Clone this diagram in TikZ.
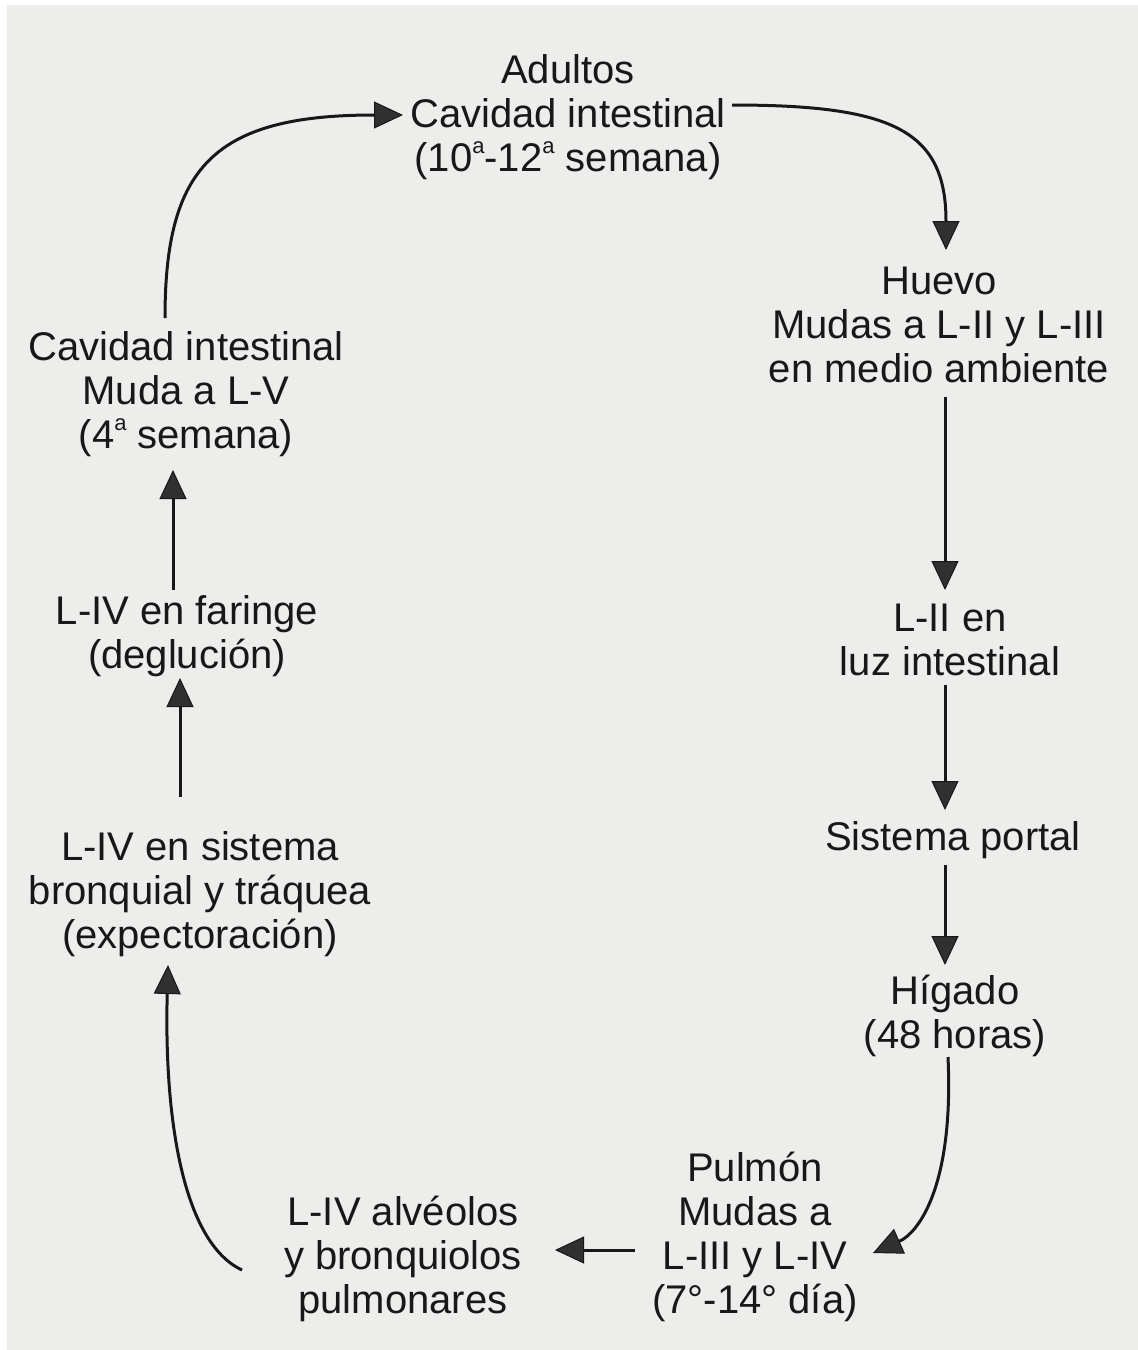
\documentclass[tikz,border=0pt]{standalone}
\usepackage{fontspec}
\setmainfont{Liberation Sans}
\usetikzlibrary{arrows.meta}
\definecolor{paper}{RGB}{237,237,235}
\definecolor{ink}{RGB}{24,24,24}
\definecolor{headc}{RGB}{48,48,48}
\newcommand\ordsupa{\raisebox{0.45em}{\fontsize{22}{22}\selectfont a}}
\begin{document}
\begin{tikzpicture}[x=1pt,y=-1pt,
  lbl/.style={font=\fontsize{40}{44}\selectfont, align=center, inner sep=0pt, text=ink},
  arr/.style={draw=ink, line width=3pt, -{Triangle[length=29pt,width=27pt,fill=headc,line width=1pt]}}]
\useasboundingbox (0,0) rectangle (1138,1350);
\fill[white] (0,0) rectangle (1138,1350);
\fill[paper] (7,5) rectangle (1138,1350);

\node[lbl] (adult) at (568,117) {Adultos\\Cavidad intestinal\\(10\ordsupa-12\ordsupa{} semana)};
\node[lbl] (huevo) at (939,325) {Huevo\\Mudas a L-II y L-III\\en medio ambiente};
\node[lbl] (l2) at (950,640) {L-II en\\luz intestinal};
\node[lbl] (portal) at (953,840) {Sistema portal};
\node[lbl] (higado) at (955,1016) {Hígado\\(48 horas)};
\node[lbl] (pulmon) at (755,1237) {Pulmón\\Mudas a\\L-III y L-IV\\(7°-14° día)};
\node[lbl] (alv) at (403,1259) {L-IV alvéolos\\y bronquiolos\\pulmonares};
\node[lbl] (bronq) at (200,894) {L-IV en sistema\\bronquial y tráquea\\(expectoración)};
\node[lbl] (faringe) at (187,636) {L-IV en faringe\\(deglución)};
\node[lbl] (cavleft) at (186,394) {Cavidad intestinal\\Muda a L-V\\(4\ordsupa{} semana)};

\draw[arr] ([shift={(-21,-76)}]cavleft.center) .. controls +(0,-150) and +(-190,0) .. ([shift={(-165,-2)}]adult.center);
\draw[arr] ([shift={(164,-12)}]adult.center) .. controls +(160,0) and +(0,-120) .. ([shift={(7,-75)}]huevo.center);
\draw[arr] ([shift={(6,72)}]huevo.center) -- ([shift={(-5,-50)}]l2.center);
\draw[arr] ([shift={(-5,45)}]l2.center) -- ([shift={(-8,-30)}]portal.center);
\draw[arr] ([shift={(-8,25)}]portal.center) -- ([shift={(-10,-51)}]higado.center);
\draw[arr] ([shift={(-7,41)}]higado.center) .. controls +(6,130) and +(45,-20) .. ([shift={(118,16)}]pulmon.center);
\draw[arr] ([shift={(-120,13)}]pulmon.center) -- ([shift={(152,-9)}]alv.center);
\draw[arr] ([shift={(-161,11)}]alv.center) .. controls +(-60,-28) and +(-4,150) .. ([shift={(-32,71)}]bronq.center);
\draw[arr] ([shift={(-20,-97)}]bronq.center) -- ([shift={(-7,42)}]faringe.center);
\draw[arr] ([shift={(-14,-46)}]faringe.center) -- ([shift={(-13,76)}]cavleft.center);
\end{tikzpicture}
\end{document}
